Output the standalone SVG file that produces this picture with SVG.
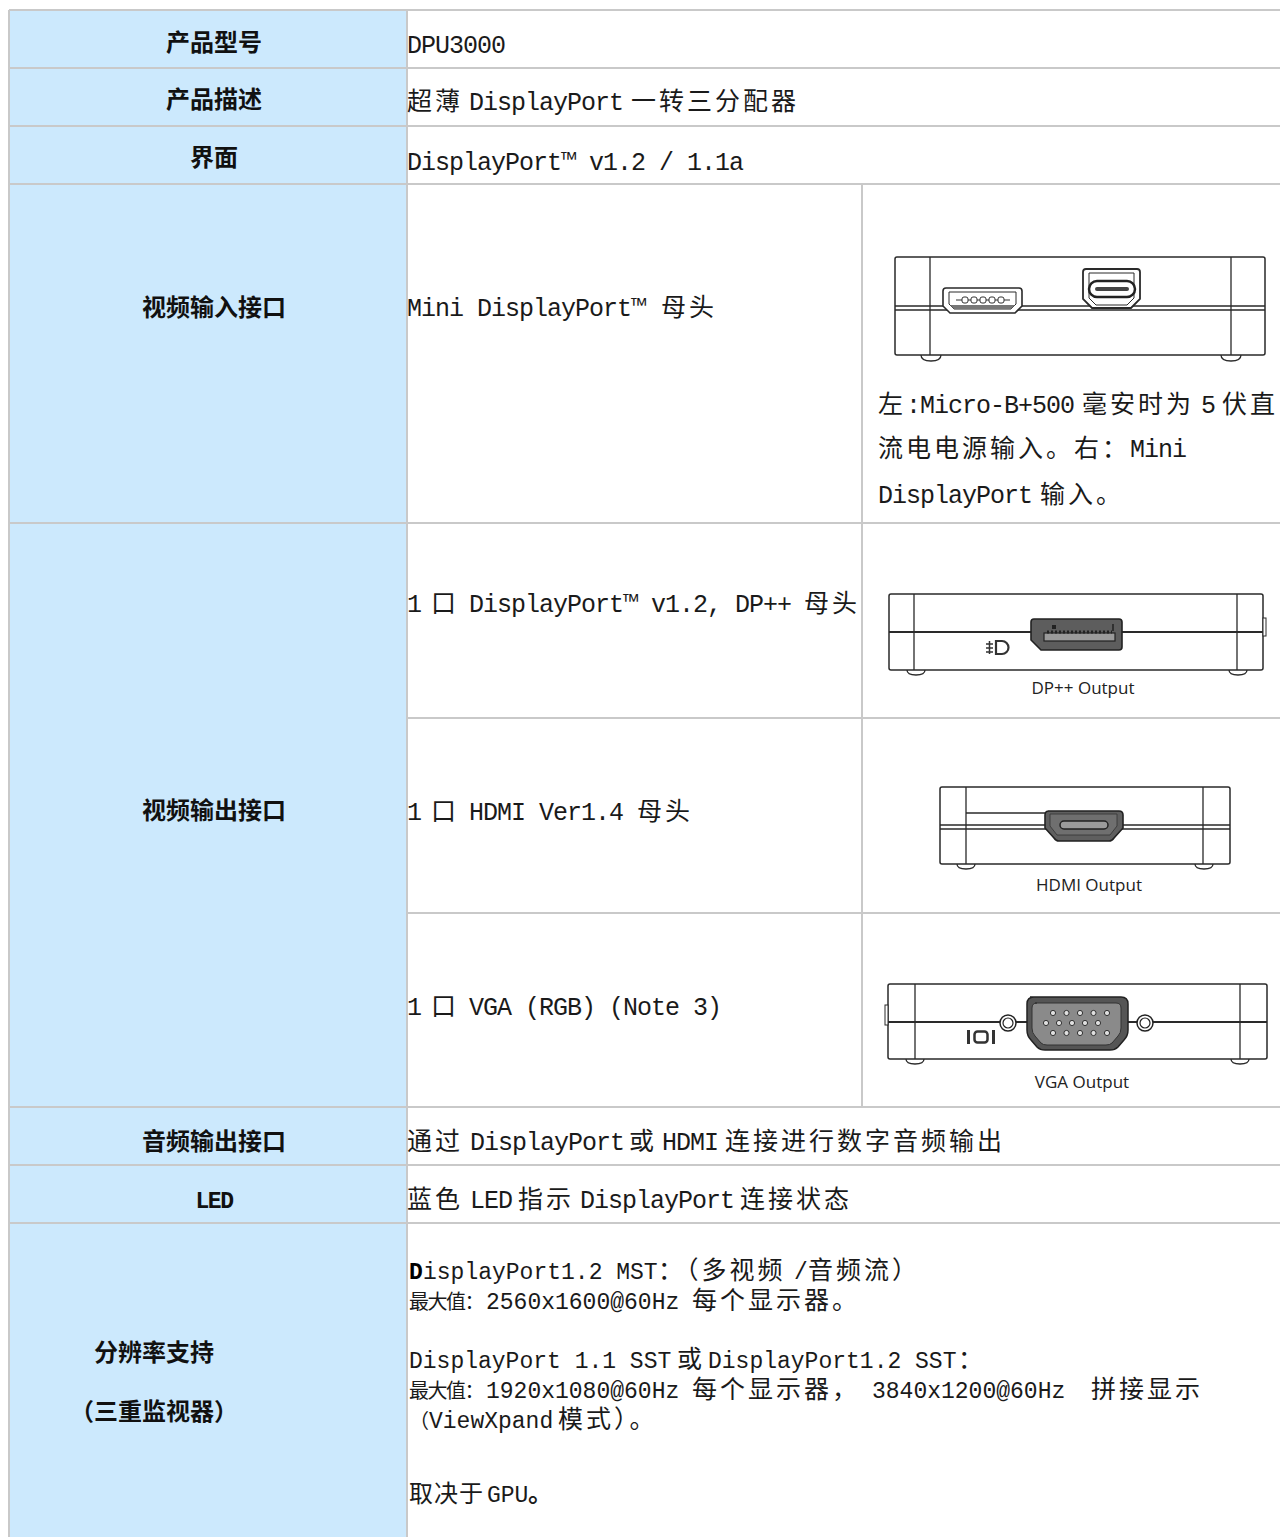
<svg xmlns="http://www.w3.org/2000/svg" width="1280" height="1537" viewBox="0 0 1280 1537">
<style>
.grid{stroke:#c9c9c9;stroke-width:2;fill:none}
.hd{font-family:"Noto Sans CJK SC","Liberation Sans",sans-serif;font-weight:700;font-size:24px;fill:#111;text-anchor:middle}
.hl{font-family:"Liberation Mono",monospace;font-weight:700;font-size:23px;letter-spacing:-1.5px;fill:#111;text-anchor:middle}
.tx{font-family:"Liberation Mono","Noto Sans CJK SC",monospace;font-size:25px;letter-spacing:-1px;fill:#1a1a1a}
.tr{font-family:"Liberation Mono","Noto Sans CJK SC",monospace;font-size:23px;letter-spacing:0px;fill:#1a1a1a}
.cj{font-family:"Noto Sans CJK SC","Liberation Mono",sans-serif;font-size:25px;letter-spacing:3px}
.cs{font-family:"Noto Sans CJK SC",sans-serif;font-size:20px;letter-spacing:-1.5px}
.body{fill:#fff;stroke:#2a2a2a;stroke-width:1.5}
.ln{fill:none;stroke:#2a2a2a;stroke-width:1.3}
.cap{font-family:"Open Sans","Liberation Sans",sans-serif;font-size:17px;fill:#222;text-anchor:middle}
</style>
<rect x="0" y="0" width="1280" height="1537" fill="#fff"/>
<rect x="9" y="10" width="398" height="1527" fill="#cce9fd"/>

<g id="grid">
<path class="grid" d="M9,10H1280M9,68H1280M9,126H1280M9,184H1280M9,523H1280M407,718H1280M407,913H1280M9,1107H1280M9,1165H1280M9,1223H1280"/>
<path class="grid" d="M9,10V1537M407,10V1537M862,184V1107"/>
</g>

<g id="row-model">
<text class="hd" x="214" y="51">产品型号</text>
<text class="tx" x="407" y="53">DPU3000</text>
</g>

<g id="row-desc">
<text class="hd" x="214" y="108">产品描述</text>
<text class="tx" y="110"><tspan class="cj" x="407">超薄</tspan><tspan x="469">DisplayPort</tspan><tspan class="cj" x="631">一转三分配器</tspan></text>
</g>

<g id="row-interface">
<text class="hd" x="214" y="166">界面</text>
<text class="tx" x="407" y="170">DisplayPort™ v1.2 / 1.1a</text>
</g>

<g id="row-input">
<text class="hd" x="214" y="316">视频输入接口</text>
<text class="tx" y="316"><tspan x="407">Mini DisplayPort™</tspan><tspan class="cj" x="661">母头</tspan></text>
<text class="tx" y="413"><tspan class="cj" x="878">左</tspan><tspan x="906">:Micro-B+500</tspan><tspan class="cj" x="1082">毫安时为</tspan><tspan x="1201">5</tspan><tspan class="cj" x="1222">伏直</tspan></text>
<text class="tx" y="457"><tspan class="cj" x="878">流电电源输入。右：</tspan><tspan x="1130">Mini</tspan></text>
<text class="tx" y="503"><tspan x="878">DisplayPort</tspan><tspan class="cj" x="1040">输入。</tspan></text>
<g id="img-input">
<rect class="body" x="895" y="257" width="370" height="98" rx="2"/>
<path class="ln" d="M930,257V355M1231,257V355"/>
<path class="ln" d="M895,306H1265M895,310H1265"/>
<path class="ln" d="M921,355q0,6 10,6q10,0 10,-6M1221,355q0,6 10,6q10,0 10,-6"/>
<path d="M946,288h73q3,0 3,3v15l-7,7h-65l-7,-7v-15q0,-3 3,-3z" fill="#fff" stroke="#2a2a2a" stroke-width="1.6"/>
<path d="M949,292h67v12l-5,5h-57l-5,-5z" fill="none" stroke="#2a2a2a" stroke-width="1"/>
<path d="M950,305h65l-4,4h-57z" fill="#777"/>
<path d="M956,300H1010" stroke="#333" stroke-width="1.2"/>
<rect x="962" y="297" width="6" height="6" rx="2" fill="#fff" stroke="#333"/>
<rect x="971" y="297" width="6" height="6" rx="2" fill="#fff" stroke="#333"/>
<rect x="980" y="297" width="6" height="6" rx="2" fill="#fff" stroke="#333"/>
<rect x="989" y="297" width="6" height="6" rx="2" fill="#fff" stroke="#333"/>
<rect x="998" y="297" width="6" height="6" rx="2" fill="#fff" stroke="#333"/>
<path d="M1086,269h51q3,0 3,3v27l-9,9h-39l-9,-9v-27q0,-3 3,-3z" fill="#fff" stroke="#2a2a2a" stroke-width="1.8"/>
<path d="M1089,273h45v25l-7,7h-31l-7,-7z" fill="none" stroke="#2a2a2a" stroke-width="1"/>
<rect x="1089" y="281" width="46" height="16" rx="8" fill="#fff" stroke="#222" stroke-width="2.5"/>
<rect x="1095" y="287" width="34" height="4" rx="2" fill="#444"/>
</g>
</g>

<g id="row-output">
<text class="hd" x="214" y="819">视频输出接口</text>
<g id="out-dp">
<text class="tx" y="612"><tspan x="407">1</tspan><tspan class="cj" x="431">口</tspan><tspan x="469">DisplayPort™ v1.2, DP++</tspan><tspan class="cj" x="804">母头</tspan></text>
<rect class="body" x="889" y="594" width="374" height="76" rx="2"/>
<rect x="1263" y="618" width="3" height="18" fill="#fff" stroke="#2a2a2a" stroke-width="1"/>
<path class="ln" d="M914,594V670M1237,594V670"/>
<path d="M889,632H1263" stroke="#2a2a2a" stroke-width="2"/>
<path class="ln" d="M907,670q0,5 9,5q9,0 9,-5M1229,670q0,5 9,5q9,0 9,-5"/>
<path d="M1035,619h84q3,0 3,3v25q0,3 -3,3h-78l-10,-10v-18q0,-3 3,-3z" fill="#5d5d5d" stroke="#222" stroke-width="1.6"/>
<rect x="1044" y="633" width="71" height="8" fill="#9a9a9a" stroke="#222" stroke-width="1.2"/>
<path d="M1047,632H1112" stroke="#222" stroke-width="3" stroke-dasharray="2 2"/>
<rect x="1052" y="625" width="4" height="4" fill="#222"/>
<path d="M1113,624V631" stroke="#222" stroke-width="1.5"/>
<path d="M996,641h6a6.5,6.5 0 0 1 0,13h-6z" fill="none" stroke="#333" stroke-width="2.2"/>
<path d="M986,644h7M986,648h7M986,652h7M989.5,641v13" stroke="#333" stroke-width="1.5"/>
<text class="cap" x="1083" y="694">DP++ Output</text>
</g>
<g id="out-hdmi">
<text class="tx" y="820"><tspan x="407">1</tspan><tspan class="cj" x="431">口</tspan><tspan x="469">HDMI Ver1.4</tspan><tspan class="cj" x="637">母头</tspan></text>
<rect class="body" x="940" y="787" width="290" height="77" rx="2"/>
<path class="ln" d="M966,787V864M1203,787V864"/>
<path class="ln" d="M940,825H1230M940,829H1230"/>
<path class="ln" d="M966,813H1046"/>
<path class="ln" d="M957,864q0,5 9,5q9,0 9,-5M1195,864q0,5 9,5q9,0 9,-5"/>
<path d="M1048,811h71q4,0 4,4v13l-9,10q-2,3 -5,3h-50q-3,0 -5,-3l-9,-10v-13q0,-4 4,-4z" fill="#5f5f5f" stroke="#222" stroke-width="1.6"/>
<path d="M1050,814h67v12l-7,9h-53l-7,-9z" fill="#6f6f6f" stroke="#333" stroke-width="0.8"/>
<rect x="1060" y="821" width="48" height="8" rx="4" fill="#9b9b9b" stroke="#222" stroke-width="1.5"/>
<text class="cap" x="1089" y="891">HDMI Output</text>
</g>
<g id="out-vga">
<text class="tx" y="1015"><tspan x="407">1</tspan><tspan class="cj" x="431">口</tspan><tspan x="469">VGA (RGB) (Note 3)</tspan></text>
<rect class="body" x="888" y="984" width="379" height="75" rx="2"/>
<rect x="885" y="1005" width="3" height="20" fill="#fff" stroke="#2a2a2a" stroke-width="1"/>
<path class="ln" d="M915,984V1059M1240,984V1059"/>
<path d="M888,1022H1267" stroke="#2a2a2a" stroke-width="2.2"/>
<path class="ln" d="M906,1059q0,5 9,5q9,0 9,-5M1231,1059q0,5 9,5q9,0 9,-5"/>
<circle cx="1008" cy="1023" r="8" fill="#fff" stroke="#222" stroke-width="1.5"/>
<circle cx="1008" cy="1023" r="5" fill="#fff" stroke="#222" stroke-width="1.2"/>
<circle cx="1145" cy="1023" r="8" fill="#fff" stroke="#222" stroke-width="1.5"/>
<circle cx="1145" cy="1023" r="5" fill="#fff" stroke="#222" stroke-width="1.2"/>
<path d="M1030,997h91q7,0 7,7v26q0,6 -4,10l-6,7q-3,3 -8,3h-65q-5,0 -8,-3l-6,-7q-4,-4 -4,-10v-26q0,-7 7,-7z" fill="#555" stroke="#222" stroke-width="1.5"/>
<path d="M1035,1003h81q5,0 5,5v20q0,5 -3,8l-6,7q-2,2 -6,2h-59q-4,0 -6,-2l-6,-7q-3,-3 -3,-8v-20q0,-5 5,-5z" fill="#8a8a8a" stroke="#333" stroke-width="1"/>
<g fill="#e0e0e0" stroke="#333" stroke-width="1">
<circle cx="1053" cy="1013" r="2.6"/><circle cx="1066.5" cy="1013" r="2.6"/><circle cx="1080" cy="1013" r="2.6"/><circle cx="1093.5" cy="1013" r="2.6"/><circle cx="1107" cy="1013" r="2.6"/>
<circle cx="1046" cy="1023" r="2.6"/><circle cx="1059" cy="1023" r="2.6"/><circle cx="1072" cy="1023" r="2.6"/><circle cx="1085" cy="1023" r="2.6"/><circle cx="1098" cy="1023" r="2.6"/>
<circle cx="1053" cy="1033" r="2.6"/><circle cx="1066.5" cy="1033" r="2.6"/><circle cx="1080" cy="1033" r="2.6"/><circle cx="1093.5" cy="1033" r="2.6"/><circle cx="1107" cy="1033" r="2.6"/>
</g>
<rect x="967" y="1030" width="3" height="14" fill="#333"/>
<rect x="974.5" y="1031.5" width="13" height="11" rx="3" fill="none" stroke="#333" stroke-width="2.5"/>
<rect x="992" y="1030" width="3" height="14" fill="#333"/>
<text class="cap" x="1082" y="1088">VGA Output</text>
</g>
</g>

<g id="row-audio">
<text class="hd" x="214" y="1150">音频输出接口</text>
<text class="tx" y="1150"><tspan class="cj" x="407">通过</tspan><tspan x="470">DisplayPort</tspan><tspan class="cj" x="629">或</tspan><tspan x="662">HDMI</tspan><tspan class="cj" x="725">连接进行数字音频输出</tspan></text>
</g>

<g id="row-led">
<text class="hl" x="214" y="1208">LED</text>
<text class="tx" y="1208"><tspan class="cj" x="407">蓝色</tspan><tspan x="470">LED</tspan><tspan class="cj" x="518">指示</tspan><tspan x="580">DisplayPort</tspan><tspan class="cj" x="740">连接状态</tspan></text>
</g>

<g id="row-resolution">
<text class="hd" x="154" y="1361">分辨率支持</text>
<text class="hd" x="154" y="1420">（三重监视器）</text>
<text class="tr" y="1279"><tspan x="409" font-weight="bold" fill="#000">D</tspan><tspan x="423">isplayPort1.2 MST</tspan><tspan class="cj" x="658">：（多视频</tspan><tspan x="794">/</tspan><tspan class="cj" x="808">音频流）</tspan></text>
<text class="tr" y="1309"><tspan class="cs" x="409">最大值：</tspan><tspan x="486">2560x1600@60Hz</tspan><tspan class="cj" x="692">每个显示器。</tspan></text>
<text class="tr" y="1368"><tspan x="409">DisplayPort 1.1 SST</tspan><tspan class="cj" x="677">或</tspan><tspan x="708">DisplayPort1.2 SST</tspan><tspan class="cj" x="958">：</tspan></text>
<text class="tr" y="1398"><tspan class="cs" x="409">最大值：</tspan><tspan x="486">1920x1080@60Hz</tspan><tspan class="cj" x="692">每个显示器，</tspan><tspan x="872">3840x1200@60Hz</tspan><tspan class="cj" x="1091">拼接显示</tspan></text>
<text class="tr" y="1428"><tspan class="cs" x="409">（</tspan><tspan x="429">ViewXpand</tspan><tspan class="cj" x="558">模式）。</tspan></text>
<text class="tr" y="1502"><tspan class="cj" x="409" style="font-size:24px;letter-spacing:1px">取决于</tspan><tspan x="487">GPU</tspan><tspan class="cj" x="528" font-weight="bold">。</tspan></text>
</g>
</svg>
